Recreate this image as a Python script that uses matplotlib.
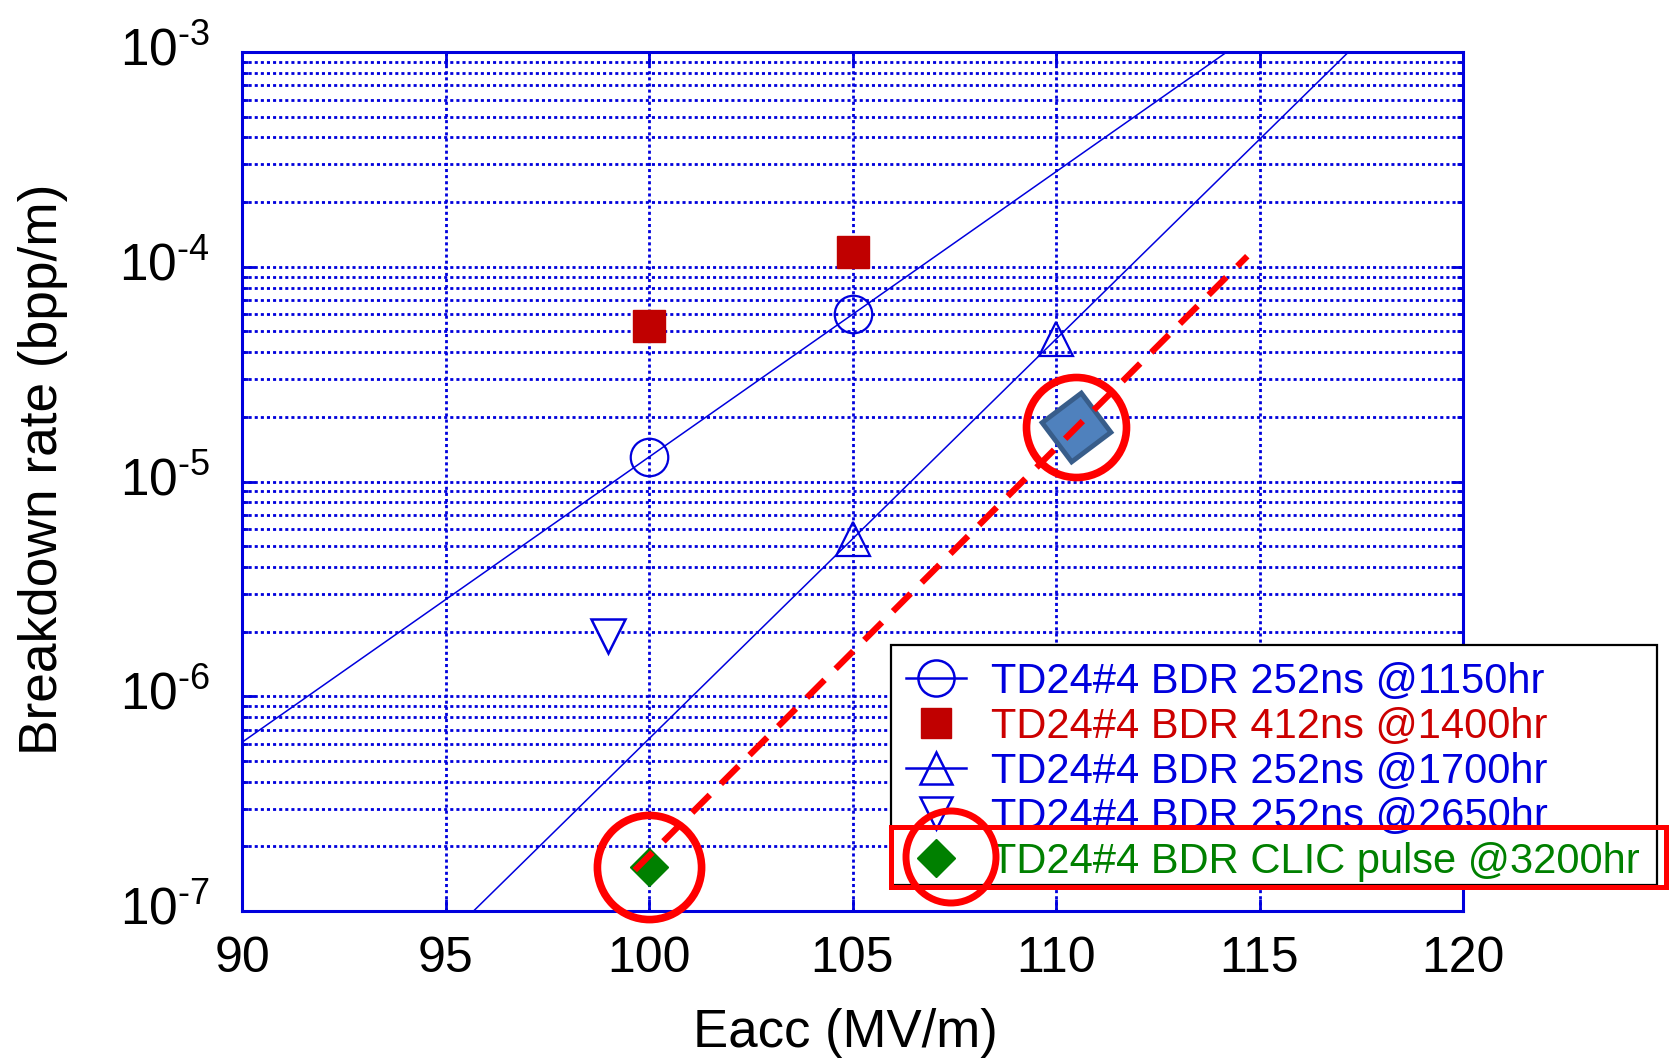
import numpy as np
import matplotlib
matplotlib.use('Agg')
import matplotlib.pyplot as plt
from matplotlib.lines import Line2D
from matplotlib.patches import Rectangle, Ellipse
from matplotlib.transforms import IdentityTransform, ScaledTranslation

plt.rcParams['font.family'] = ['Liberation Sans', 'DejaVu Sans']
plt.rcParams['mathtext.fontset'] = 'custom'
plt.rcParams['mathtext.rm'] = 'Liberation Sans'
plt.rcParams['mathtext.it'] = 'Liberation Sans'
plt.rcParams['mathtext.default'] = 'regular'

# ---------------- data ----------------
e_1150 = [100, 105]
bdr_1150 = [1.3e-5, 6.0e-5]
e_1400 = [100, 105]
bdr_1400 = [5.3e-5, 1.17e-4]
e_1700 = [105, 110]
bdr_1700 = [5.4e-6, 4.6e-5]
e_2650 = [99]
bdr_2650 = [1.9e-6]
e_3200 = [100]
bdr_3200 = [1.6e-7]
e_highlight = [110.5]
bdr_highlight = [1.8e-5]
trend_e = [99.65, 114.7]
trend_bdr = [1.55e-7, 1.12e-4]

labels = ['TD24#4 BDR 252ns @1150hr',
          'TD24#4 BDR 412ns @1400hr',
          'TD24#4 BDR 252ns @1700hr',
          'TD24#4 BDR 252ns @2650hr',
          'TD24#4 BDR CLIC pulse @3200hr']
xticks = [90, 95, 100, 105, 110, 115, 120]
yticks = [1e-7, 1e-6, 1e-5, 1e-4, 1e-3]
ytick_labels = ['$10^{\u20107}$', '$10^{\u20106}$', '$10^{\u20105}$',
                '$10^{\u20104}$', '$10^{\u20103}$']

BLUE = '#0000DD'
RED = '#C00000'
GREEN = '#008000'
BRIGHT_RED = '#FF0000'

W, H = 1675, 1060
fig = plt.figure(figsize=(W / 100, H / 100), dpi=100)
ax = fig.add_axes([242 / W, 1 - 911 / H, (1463 - 242) / W, (911 - 52) / H])
ax.set_yscale('log')
ax.set_xlim(90, 120)
ax.set_ylim(1e-7, 1e-3)

# grid
ax.set_axisbelow(True)
ax.grid(True, which='major', axis='both', color=BLUE, lw=2.0, ls=(0, (1.1, 1.1)))
ax.grid(True, which='minor', axis='y', color=BLUE, lw=2.0, ls=(0, (1.1, 1.1)))

# fit lines
xx = np.array([90.0, 120.0])
for ex, by in [(e_1150, bdr_1150), (e_1700, bdr_1700)]:
    p = np.polyfit(ex, np.log10(by), 1)
    ax.plot(xx, 10 ** np.polyval(p, xx), color=BLUE, lw=1.1, zorder=3)

ax.plot(e_1150, bdr_1150, ls='none', marker='o', ms=27, mfc='none', mec=BLUE, mew=1.6, zorder=4)
ax.plot(e_1400, bdr_1400, ls='none', marker='s', ms=23, mfc=RED, mec=RED, zorder=4)
ax.plot(e_1700, bdr_1700, ls='none', marker='^', ms=24, mfc='none', mec=BLUE, mew=1.6, zorder=4)
ax.plot(e_2650, bdr_2650, ls='none', marker='v', ms=25, mfc='white', mec=BLUE, mew=1.8, zorder=4)
ax.plot(e_3200, bdr_3200, ls='none', marker='D', ms=19.5, mfc=GREEN, mec=GREEN, zorder=4)
ax.plot(e_highlight, bdr_highlight, ls='none', marker=(4, 0, -8), ms=50,
        mfc='#4F81BD', mec='#385D8A', mew=3.5, zorder=5)

# trend (red dashed) and red circles
ax.plot(trend_e, trend_bdr, color=BRIGHT_RED, lw=4.5, dashes=(4, 2.5),
        dash_capstyle='butt', zorder=7)
ax.plot(e_highlight, bdr_highlight, ls='none', marker='o', ms=72, mfc='none',
        mec=BRIGHT_RED, mew=5.5, zorder=6)
ax.plot(e_3200, bdr_3200, ls='none', marker='o', ms=75, mfc='none',
        mec=BRIGHT_RED, mew=5.5, zorder=6, clip_on=False)

# axes styling
for s in ax.spines.values():
    s.set_color(BLUE)
    s.set_linewidth(2.2)
ax.set_xticks(xticks)
ax.set_xticklabels([str(t) for t in xticks])
ax.set_yticks(yticks)
ax.set_yticklabels(ytick_labels)
ax.tick_params(which='both', direction='in', top=True, right=True, color=BLUE,
               labelcolor='black')
ax.tick_params(which='major', length=9, width=2, labelsize=36)
ax.tick_params(axis='y', which='major', labelsize=37, pad=23)
ax.tick_params(axis='x', which='major', pad=18)
ax.tick_params(which='minor', length=4, width=2)
shift_up = ScaledTranslation(0, 6 / 100, fig.dpi_scale_trans)
for lab in ax.get_yticklabels():
    lab.set_transform(lab.get_transform() + shift_up)
ax.set_xlabel('Eacc (MV/m)', fontsize=38, labelpad=19)
ax.xaxis.label.set_x(0.494)
ax.set_ylabel('Breakdown rate (bpp/m)', fontsize=38.3, labelpad=37)
ax.yaxis.label.set_y(0.514)

# legend
handles = [
    Line2D([], [], color=BLUE, lw=1.8, marker='o', ms=26, mfc='none', mec=BLUE, mew=1.8),
    Line2D([], [], ls='none', marker='s', ms=22, mfc=RED, mec=RED),
    Line2D([], [], color=BLUE, lw=1.8, marker='^', ms=23, mfc='none', mec=BLUE, mew=1.8),
    Line2D([], [], ls='none', marker='v', ms=23, mfc='white', mec=BLUE, mew=1.8),
    Line2D([], [], ls='none', marker='D', ms=19.5, mfc=GREEN, mec=GREEN),
]
leg = fig.legend(handles, labels, loc='upper left', bbox_to_anchor=(891 / W, 1 - 647 / H),
                 borderaxespad=0, fontsize=30, handlelength=1.46, handletextpad=0.58,
                 borderpad=0.35, labelspacing=0.12, frameon=False)
for t, c in zip(leg.get_texts(), [BLUE, '#CC0000', BLUE, BLUE, GREEN]):
    t.set_color(c)

# legend frame (figure pixel coordinates)
fig.add_artist(Rectangle((891, H - 885), 1657 - 891, 885 - 645, transform=IdentityTransform(),
                         fill=True, fc='white', ec='black', lw=1.6, zorder=4))
leg.set_zorder(5)

# highlight shapes around last legend row (figure pixel coordinates)
fig.add_artist(Rectangle((891, H - 887), 1666 - 891, 60, transform=IdentityTransform(),
                         fill=False, ec=BRIGHT_RED, lw=3.6, zorder=10))
fig.add_artist(Ellipse((951, H - 857), 90, 92, transform=IdentityTransform(),
                       fill=False, ec=BRIGHT_RED, lw=5, zorder=10))

fig.savefig('out.png', dpi=100)
